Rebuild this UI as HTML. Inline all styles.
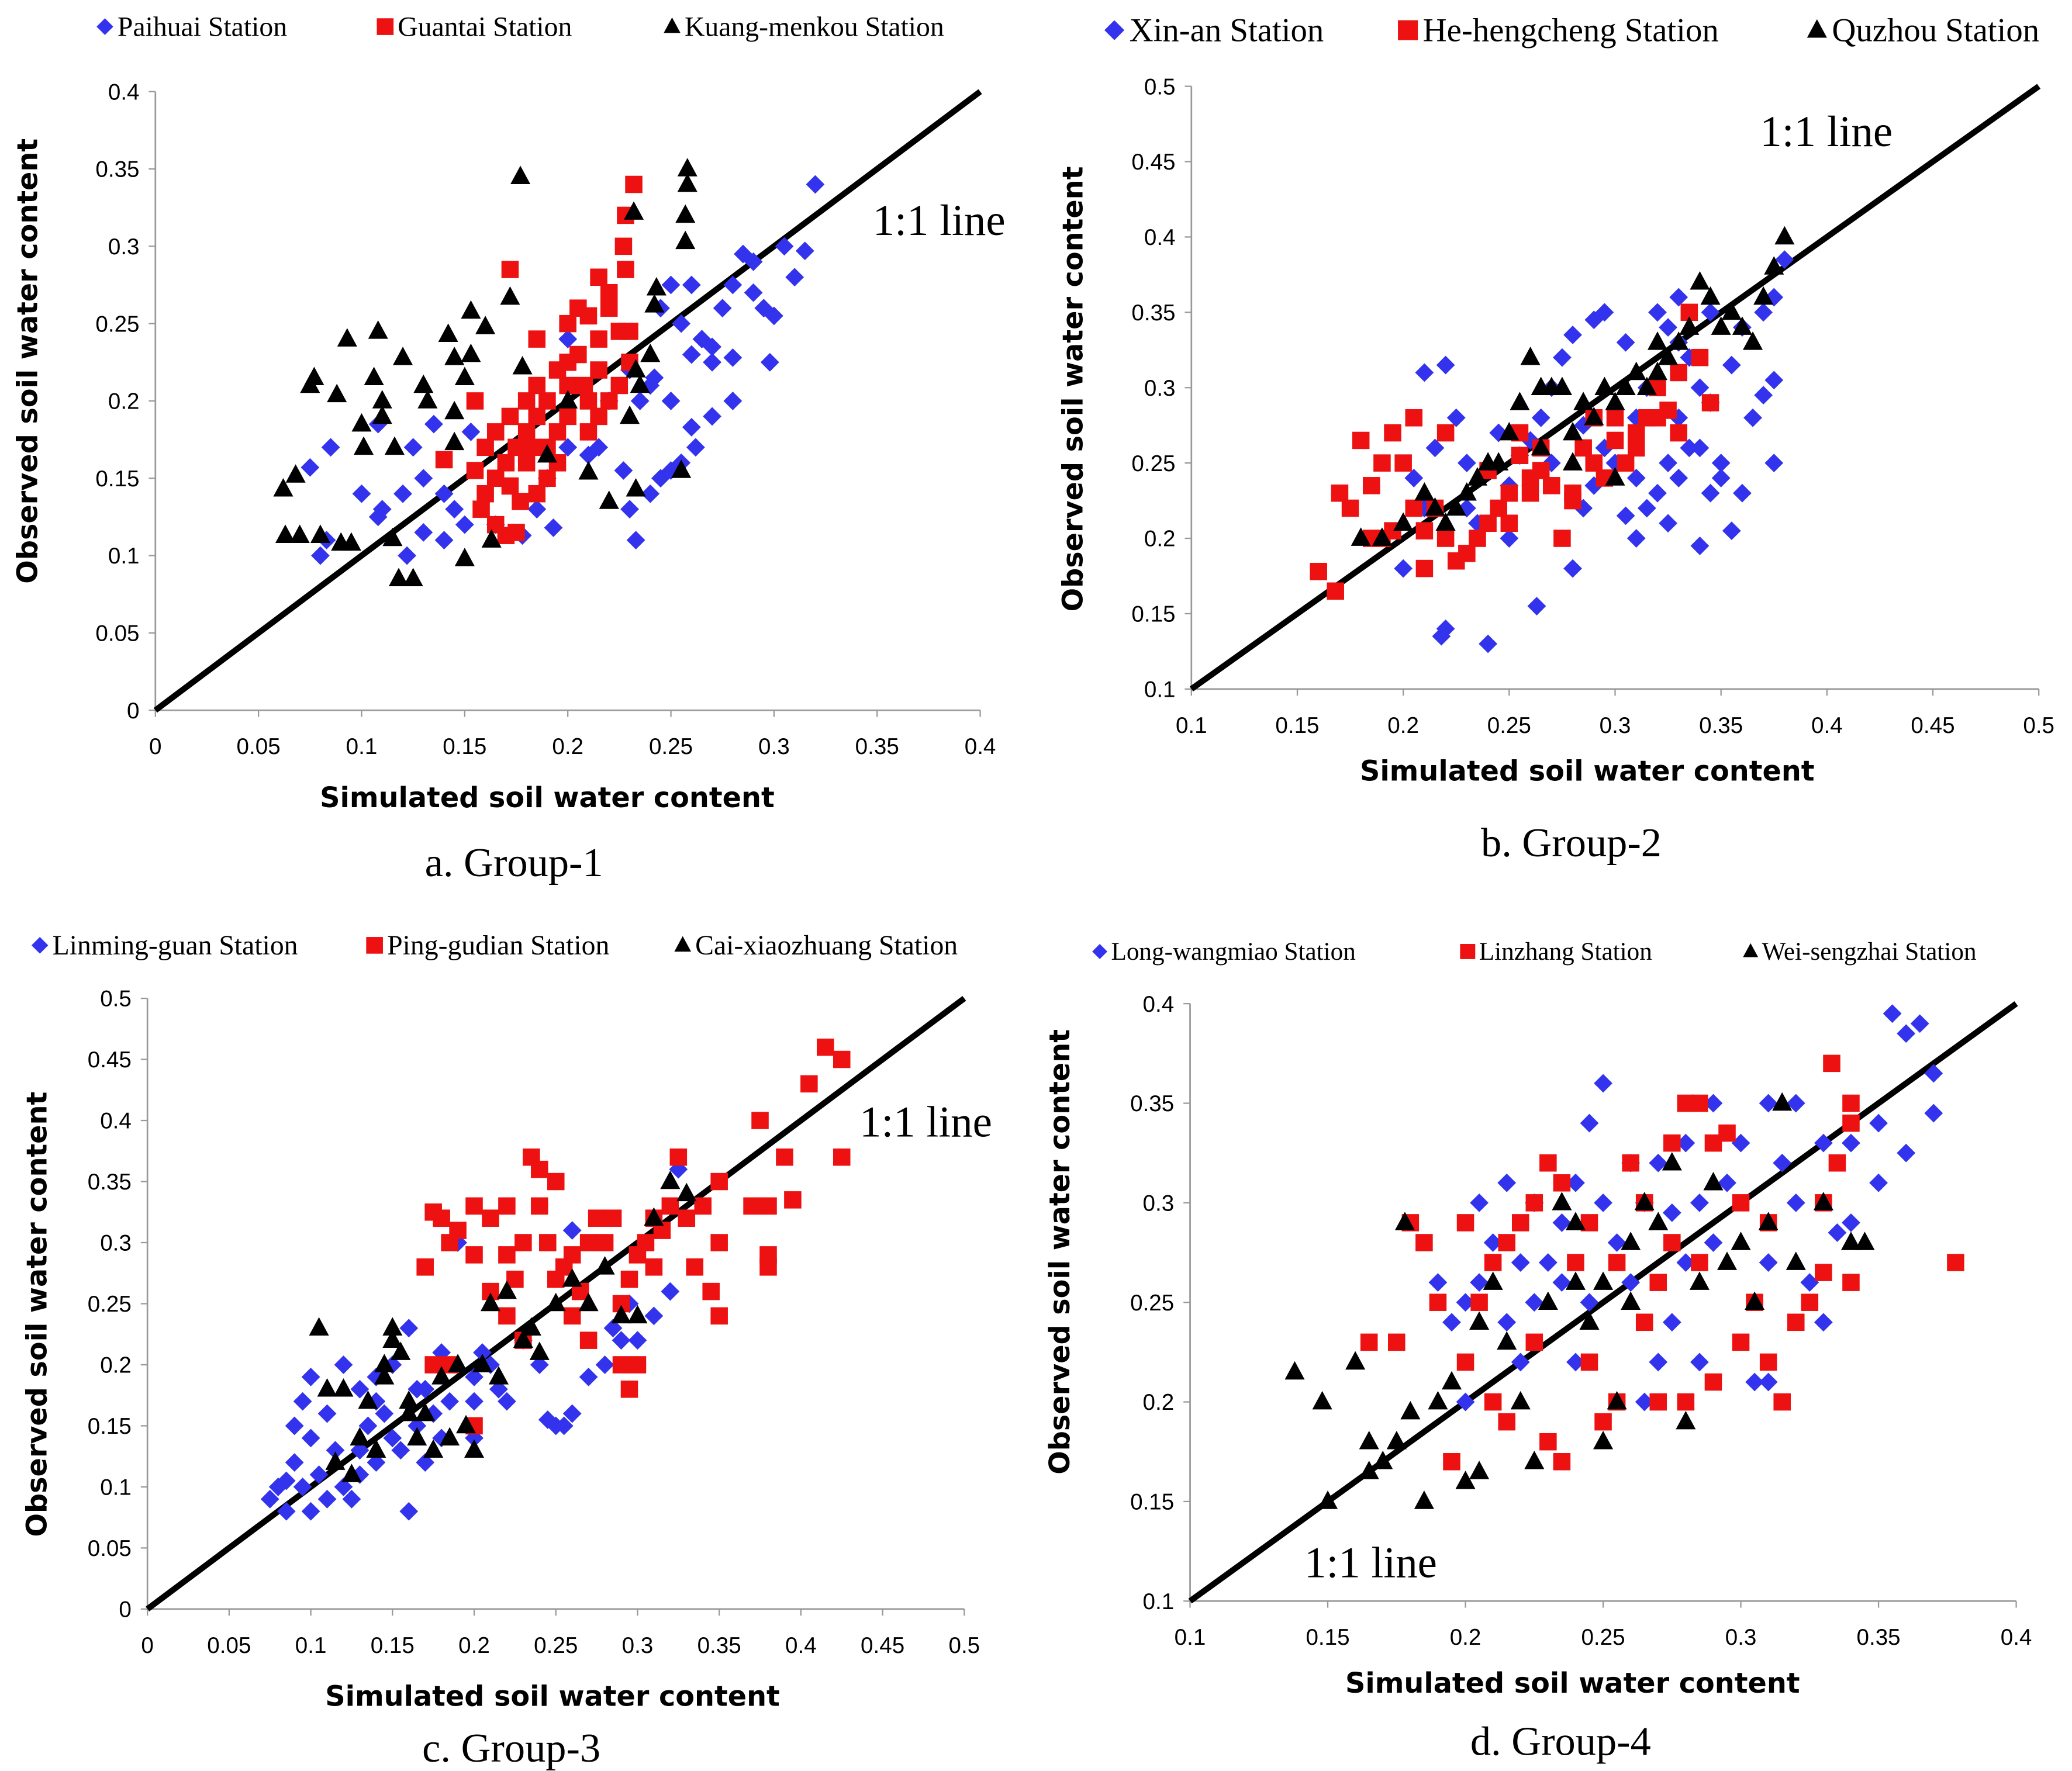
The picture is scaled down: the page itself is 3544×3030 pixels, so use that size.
<!DOCTYPE html>
<html><head><meta charset="utf-8"><style>
html,body{margin:0;padding:0;background:#fff;width:3544px;height:3030px;overflow:hidden}
svg{display:block}
.tick{font-family:"Liberation Sans",sans-serif;font-size:17px;fill:#000}
.atitle{font-family:"DejaVu Sans","Liberation Sans",sans-serif;font-weight:bold;font-size:21px;fill:#000}
.leg{font-family:"Liberation Serif",serif;fill:#000}
.cap{font-family:"Liberation Serif",serif;font-size:31px;fill:#000}
.one{font-family:"Liberation Serif",serif;font-size:33px;fill:#000}
</style></head><body>
<svg id="chart" width="3544" height="3030" viewBox="0 0 1560 1334" preserveAspectRatio="none" xmlns="http://www.w3.org/2000/svg"></svg>
<script>
// Panel a data
const aBlue=[[0.32,0.34],[0.315,0.297],[0.31,0.28],[0.305,0.3],[0.29,0.29],[0.285,0.295],[0.28,0.275],[0.3,0.255],[0.295,0.26],[0.298,0.225],[0.28,0.2],[0.27,0.19],[0.262,0.17],[0.255,0.16],[0.25,0.155],[0.245,0.15],[0.24,0.14],[0.233,0.11],[0.23,0.13],[0.227,0.155],[0.26,0.23],[0.265,0.24],[0.27,0.225],[0.255,0.25],[0.25,0.275],[0.26,0.275],[0.24,0.21],[0.235,0.2],[0.22,0.2],[0.215,0.17],[0.2,0.17],[0.19,0.15],[0.185,0.13],[0.178,0.113],[0.193,0.118],[0.165,0.12],[0.15,0.12],[0.14,0.11],[0.13,0.115],[0.122,0.1],[0.11,0.13],[0.1,0.14],[0.108,0.125],[0.085,0.17],[0.08,0.1],[0.075,0.157],[0.083,0.11],[0.13,0.15],[0.14,0.14],[0.12,0.14],[0.108,0.185],[0.153,0.18],[0.125,0.17],[0.21,0.165],[0.275,0.26],[0.25,0.2],[0.23,0.22],[0.26,0.183],[0.245,0.26],[0.27,0.235],[0.28,0.228],[0.29,0.27],[0.242,0.215],[0.2,0.24],[0.135,0.185],[0.145,0.13]];
const aRed=[[0.232,0.34],[0.228,0.32],[0.227,0.3],[0.228,0.285],[0.215,0.28],[0.22,0.27],[0.205,0.26],[0.2,0.25],[0.21,0.255],[0.225,0.245],[0.215,0.22],[0.2,0.21],[0.19,0.2],[0.185,0.19],[0.18,0.18],[0.175,0.17],[0.17,0.16],[0.165,0.15],[0.16,0.14],[0.155,0.2],[0.14,0.162],[0.172,0.285],[0.175,0.115],[0.17,0.113],[0.165,0.12],[0.185,0.14],[0.19,0.15],[0.195,0.16],[0.21,0.18],[0.22,0.2],[0.225,0.21],[0.23,0.225],[0.195,0.22],[0.185,0.21],[0.18,0.2],[0.172,0.19],[0.165,0.18],[0.16,0.17],[0.2,0.19],[0.21,0.2],[0.23,0.245],[0.22,0.26],[0.19,0.17],[0.18,0.16],[0.172,0.145],[0.158,0.13],[0.215,0.24],[0.205,0.23],[0.2,0.225],[0.195,0.18],[0.177,0.135],[0.183,0.17],[0.208,0.21],[0.215,0.19],[0.155,0.155],[0.185,0.24]];
const aBlack=[[0.062,0.143],[0.068,0.152],[0.063,0.113],[0.07,0.113],[0.075,0.21],[0.077,0.215],[0.08,0.113],[0.09,0.108],[0.093,0.24],[0.1,0.185],[0.106,0.215],[0.108,0.245],[0.11,0.2],[0.12,0.228],[0.116,0.17],[0.118,0.085],[0.125,0.085],[0.13,0.21],[0.132,0.2],[0.145,0.173],[0.142,0.243],[0.153,0.23],[0.153,0.258],[0.16,0.248],[0.15,0.098],[0.172,0.267],[0.177,0.345],[0.178,0.222],[0.163,0.11],[0.19,0.165],[0.2,0.2],[0.22,0.135],[0.232,0.322],[0.235,0.21],[0.24,0.23],[0.243,0.273],[0.242,0.262],[0.258,0.35],[0.258,0.34],[0.257,0.32],[0.257,0.303],[0.23,0.19],[0.233,0.22],[0.255,0.155],[0.233,0.143],[0.11,0.19],[0.101,0.17],[0.145,0.228],[0.15,0.215],[0.145,0.193],[0.095,0.108],[0.115,0.111],[0.21,0.154],[0.088,0.204]];
// Panel b data
const bBlue=[[0.38,0.385],[0.375,0.36],[0.37,0.35],[0.375,0.305],[0.37,0.295],[0.365,0.28],[0.375,0.25],[0.36,0.23],[0.355,0.205],[0.35,0.24],[0.345,0.23],[0.34,0.26],[0.345,0.29],[0.34,0.3],[0.335,0.32],[0.33,0.33],[0.325,0.34],[0.32,0.35],[0.33,0.36],[0.345,0.35],[0.335,0.26],[0.33,0.24],[0.325,0.25],[0.32,0.23],[0.315,0.22],[0.31,0.2],[0.305,0.215],[0.3,0.25],[0.295,0.26],[0.29,0.235],[0.285,0.275],[0.28,0.18],[0.29,0.345],[0.295,0.35],[0.28,0.335],[0.305,0.33],[0.27,0.3],[0.265,0.28],[0.26,0.265],[0.255,0.255],[0.25,0.235],[0.245,0.27],[0.24,0.13],[0.22,0.14],[0.218,0.135],[0.263,0.155],[0.235,0.21],[0.23,0.22],[0.225,0.28],[0.22,0.315],[0.21,0.31],[0.215,0.26],[0.205,0.24],[0.2,0.18],[0.21,0.22],[0.23,0.25],[0.27,0.25],[0.31,0.28],[0.315,0.3],[0.35,0.25],[0.325,0.21],[0.34,0.195],[0.355,0.315],[0.36,0.34],[0.275,0.32],[0.31,0.24],[0.285,0.22],[0.25,0.2],[0.33,0.28]];
const bRed=[[0.335,0.35],[0.34,0.32],[0.33,0.31],[0.32,0.3],[0.325,0.285],[0.315,0.28],[0.31,0.27],[0.3,0.265],[0.305,0.25],[0.295,0.24],[0.29,0.25],[0.285,0.26],[0.28,0.23],[0.27,0.235],[0.265,0.245],[0.26,0.24],[0.255,0.255],[0.25,0.23],[0.245,0.22],[0.24,0.21],[0.235,0.2],[0.23,0.19],[0.225,0.185],[0.22,0.2],[0.215,0.22],[0.21,0.18],[0.205,0.22],[0.2,0.25],[0.195,0.27],[0.19,0.25],[0.185,0.235],[0.18,0.265],[0.175,0.22],[0.17,0.23],[0.16,0.178],[0.168,0.165],[0.19,0.2],[0.195,0.205],[0.205,0.28],[0.22,0.27],[0.24,0.245],[0.25,0.21],[0.26,0.23],[0.275,0.2],[0.28,0.225],[0.29,0.28],[0.3,0.28],[0.31,0.26],[0.32,0.28],[0.33,0.27],[0.345,0.29],[0.265,0.26],[0.255,0.27],[0.21,0.205],[0.185,0.2]];
const bBlack=[[0.38,0.4],[0.375,0.38],[0.37,0.36],[0.36,0.34],[0.355,0.35],[0.345,0.36],[0.34,0.37],[0.335,0.34],[0.33,0.33],[0.325,0.32],[0.32,0.31],[0.315,0.3],[0.31,0.31],[0.305,0.3],[0.3,0.29],[0.295,0.3],[0.29,0.28],[0.285,0.29],[0.28,0.27],[0.275,0.3],[0.27,0.3],[0.265,0.3],[0.26,0.32],[0.255,0.29],[0.25,0.27],[0.245,0.25],[0.24,0.25],[0.235,0.24],[0.23,0.23],[0.225,0.22],[0.22,0.21],[0.215,0.22],[0.21,0.23],[0.2,0.21],[0.19,0.2],[0.18,0.2],[0.265,0.26],[0.28,0.25],[0.3,0.24],[0.32,0.33],[0.35,0.34],[0.365,0.33]];
// Panel c data
const cBlue=[[0.075,0.09],[0.08,0.1],[0.085,0.08],[0.09,0.12],[0.095,0.1],[0.1,0.08],[0.105,0.11],[0.11,0.09],[0.12,0.1],[0.125,0.09],[0.13,0.13],[0.135,0.15],[0.14,0.12],[0.145,0.16],[0.15,0.14],[0.155,0.13],[0.16,0.08],[0.165,0.15],[0.17,0.18],[0.175,0.16],[0.18,0.14],[0.185,0.17],[0.19,0.3],[0.2,0.19],[0.205,0.21],[0.21,0.2],[0.215,0.18],[0.22,0.17],[0.23,0.22],[0.24,0.2],[0.245,0.155],[0.25,0.15],[0.255,0.15],[0.26,0.16],[0.27,0.19],[0.28,0.2],[0.285,0.23],[0.29,0.22],[0.295,0.25],[0.3,0.22],[0.31,0.24],[0.32,0.26],[0.325,0.36],[0.26,0.31],[0.09,0.15],[0.1,0.14],[0.11,0.16],[0.115,0.13],[0.12,0.2],[0.13,0.18],[0.14,0.17],[0.16,0.23],[0.17,0.12],[0.18,0.21],[0.1,0.19],[0.095,0.17],[0.15,0.2],[0.2,0.14],[0.13,0.11],[0.085,0.105],[0.14,0.19],[0.165,0.18],[0.2,0.17]];
const cRed=[[0.415,0.46],[0.425,0.45],[0.405,0.43],[0.425,0.37],[0.375,0.4],[0.39,0.37],[0.395,0.335],[0.38,0.33],[0.37,0.33],[0.38,0.29],[0.38,0.28],[0.35,0.35],[0.35,0.3],[0.345,0.26],[0.35,0.24],[0.34,0.33],[0.335,0.28],[0.325,0.37],[0.32,0.33],[0.315,0.31],[0.31,0.32],[0.305,0.3],[0.3,0.29],[0.295,0.27],[0.29,0.25],[0.3,0.2],[0.295,0.18],[0.29,0.2],[0.28,0.3],[0.275,0.32],[0.27,0.3],[0.265,0.26],[0.26,0.29],[0.255,0.28],[0.25,0.27],[0.245,0.3],[0.24,0.36],[0.235,0.37],[0.23,0.3],[0.225,0.27],[0.22,0.33],[0.21,0.32],[0.2,0.33],[0.2,0.29],[0.19,0.31],[0.185,0.3],[0.18,0.32],[0.175,0.325],[0.17,0.28],[0.175,0.2],[0.185,0.2],[0.2,0.15],[0.21,0.26],[0.22,0.24],[0.23,0.22],[0.27,0.22],[0.26,0.24],[0.33,0.32],[0.31,0.28],[0.285,0.32],[0.25,0.35],[0.24,0.33],[0.22,0.29]];
const cBlack=[[0.105,0.23],[0.11,0.18],[0.115,0.12],[0.12,0.18],[0.125,0.11],[0.13,0.14],[0.135,0.17],[0.14,0.13],[0.145,0.19],[0.15,0.23],[0.155,0.21],[0.16,0.17],[0.165,0.14],[0.17,0.16],[0.175,0.13],[0.18,0.19],[0.185,0.14],[0.19,0.2],[0.195,0.15],[0.2,0.13],[0.205,0.2],[0.21,0.25],[0.215,0.19],[0.22,0.26],[0.23,0.22],[0.235,0.23],[0.24,0.21],[0.25,0.25],[0.26,0.27],[0.27,0.25],[0.28,0.28],[0.29,0.24],[0.3,0.24],[0.31,0.32],[0.32,0.35],[0.33,0.34],[0.15,0.22],[0.16,0.16],[0.145,0.2]];
// Panel d data
const dBlue=[[0.355,0.395],[0.365,0.39],[0.36,0.385],[0.37,0.365],[0.36,0.325],[0.37,0.345],[0.35,0.34],[0.35,0.31],[0.34,0.29],[0.335,0.285],[0.33,0.24],[0.325,0.26],[0.32,0.3],[0.315,0.32],[0.31,0.35],[0.3,0.33],[0.295,0.31],[0.29,0.28],[0.285,0.3],[0.28,0.27],[0.275,0.24],[0.27,0.22],[0.265,0.2],[0.26,0.26],[0.255,0.28],[0.25,0.36],[0.245,0.34],[0.24,0.31],[0.235,0.29],[0.23,0.27],[0.225,0.25],[0.22,0.22],[0.215,0.24],[0.21,0.28],[0.205,0.3],[0.2,0.25],[0.195,0.24],[0.19,0.26],[0.2,0.2],[0.215,0.31],[0.225,0.3],[0.235,0.26],[0.25,0.3],[0.26,0.32],[0.27,0.32],[0.28,0.33],[0.29,0.35],[0.305,0.21],[0.31,0.21],[0.31,0.27],[0.32,0.35],[0.33,0.33],[0.34,0.33],[0.245,0.25],[0.265,0.3],[0.275,0.295],[0.285,0.22],[0.24,0.22],[0.22,0.27],[0.205,0.26]];
const dRed=[[0.378,0.27],[0.333,0.37],[0.34,0.35],[0.34,0.34],[0.335,0.32],[0.33,0.3],[0.33,0.265],[0.34,0.26],[0.325,0.25],[0.32,0.24],[0.315,0.2],[0.31,0.29],[0.305,0.25],[0.3,0.3],[0.295,0.335],[0.29,0.33],[0.285,0.35],[0.28,0.35],[0.275,0.33],[0.27,0.26],[0.265,0.3],[0.26,0.32],[0.255,0.2],[0.25,0.19],[0.245,0.22],[0.24,0.27],[0.235,0.31],[0.23,0.32],[0.225,0.3],[0.22,0.29],[0.215,0.28],[0.21,0.27],[0.205,0.25],[0.2,0.22],[0.195,0.17],[0.19,0.25],[0.185,0.28],[0.18,0.29],[0.175,0.23],[0.165,0.23],[0.23,0.18],[0.235,0.17],[0.225,0.23],[0.21,0.2],[0.215,0.19],[0.27,0.2],[0.28,0.2],[0.29,0.21],[0.3,0.23],[0.31,0.22],[0.265,0.24],[0.255,0.27],[0.245,0.29],[0.275,0.28],[0.285,0.27],[0.2,0.29]];
const dBlack=[[0.138,0.215],[0.148,0.2],[0.15,0.15],[0.16,0.22],[0.165,0.18],[0.165,0.165],[0.17,0.17],[0.175,0.18],[0.178,0.29],[0.18,0.195],[0.185,0.15],[0.19,0.2],[0.195,0.21],[0.2,0.16],[0.205,0.24],[0.21,0.26],[0.215,0.23],[0.22,0.2],[0.225,0.17],[0.23,0.25],[0.235,0.3],[0.24,0.29],[0.245,0.24],[0.25,0.26],[0.255,0.2],[0.26,0.28],[0.265,0.3],[0.27,0.29],[0.275,0.32],[0.28,0.19],[0.285,0.26],[0.29,0.31],[0.295,0.27],[0.3,0.28],[0.305,0.25],[0.31,0.29],[0.315,0.35],[0.32,0.27],[0.33,0.3],[0.34,0.28],[0.345,0.28],[0.205,0.165],[0.25,0.18],[0.26,0.25],[0.24,0.26]];
// Tick labels
const ticksA=["0","0.05","0.1","0.15","0.2","0.25","0.3","0.35","0.4"];
const ticksB=["0.1","0.15","0.2","0.25","0.3","0.35","0.4","0.45","0.5"];
const ticksC=["0","0.05","0.1","0.15","0.2","0.25","0.3","0.35","0.4","0.45","0.5"];
const ticksDx=["0.1","0.15","0.2","0.25","0.3","0.35","0.4"];
const ticksDy=["0.1","0.15","0.2","0.25","0.3","0.35","0.4"];

const NS="http://www.w3.org/2000/svg";
const svg=document.getElementById('chart');
function mk(tag,attrs,parent){const e=document.createElementNS(NS,tag);for(const k in attrs)e.setAttribute(k,attrs[k]);(parent||svg).appendChild(e);return e;}
function txt(s,x,y,cls,parent,anchor,extra){const t=mk('text',Object.assign({x:x,y:y,class:cls,'text-anchor':anchor||'start'},extra||{}),parent);t.textContent=s;return t;}
function marker(kind,cx,cy,s,parent){
  if(kind==='d'){return mk('polygon',{points:`${cx},${cy-s} ${cx+s},${cy} ${cx},${cy+s} ${cx-s},${cy}`,fill:'#3333ee'},parent);}
  if(kind==='s'){return mk('rect',{x:cx-s,y:cy-s,width:2*s,height:2*s,fill:'#ee1111'},parent);}
  return mk('polygon',{points:`${cx},${cy-s*1.1} ${cx+s},${cy+s*0.75} ${cx-s},${cy+s*0.75}`,fill:'#000'},parent);
}
function panel(cfg){
  const g=mk('g',{});
  
  
  const sx=v=>cfg.x0+(v-cfg.xmin)/(cfg.xmax-cfg.xmin)*(cfg.x1-cfg.x0);
  const sy=v=>cfg.y0-(v-cfg.ymin)/(cfg.ymax-cfg.ymin)*(cfg.y0-cfg.y1);
  const ax=mk('path',{d:`M${cfg.x0},${cfg.y1} V${cfg.y0} H${cfg.x1}`,stroke:'#999',fill:'none','stroke-width':1.2},g);
  
  
  cfg.xt.forEach(l=>{const v=parseFloat(l);const x=sx(v);
    mk('line',{x1:x,x2:x,y1:cfg.y0,y2:cfg.y0+5,stroke:'#999'},g);
    const t=txt(l,x,cfg.y0+33,'tick',g,'middle');
    
    });
  cfg.yt.forEach(l=>{const v=parseFloat(l);const y=sy(v);
    mk('line',{x1:cfg.x0-5,x2:cfg.x0,y1:y,y2:y,stroke:'#999'},g);
    const t=txt(l,cfg.x0-12,y+6,'tick',g,'end');
    
    });
  const ln=mk('line',{x1:sx(cfg.lmin),y1:sy(cfg.lmin),x2:sx(cfg.lmax),y2:sy(cfg.lmax),stroke:'#000','stroke-width':4.5},g);
  
  
  const ser=[[cfg.blue,'d',7],[cfg.red,'s',6.5],[cfg.black,'t',7.5]];
  ser.forEach(([data,k,s])=>{data.forEach(p=>{const m=marker(k,sx(p[0]),sy(p[1]),s,g);
    
    });});
  const xt=txt('Simulated soil water content',cfg.xtx,cfg.xty,'atitle',g,'middle',{'font-size':cfg.tfs});
  
  
  const yt=txt('Observed soil water content',0,0,'atitle',g,'middle',{transform:`translate(${cfg.ytx},${cfg.yty}) rotate(-90)`,'font-size':cfg.tfs});
  
  
  const ol=txt('1:1 line',cfg.olx,cfg.oly,'one',g,'middle');
  
  
  const cp=txt(cfg.cap,cfg.capx,cfg.capy,'cap',g,'middle');
  
  
  cfg.leg.forEach(([k,label,x])=>{const lg=mk('g',{},g);
    
    
    marker(k,x,cfg.legy-cfg.lfs*0.33,cfg.lfs*0.3,lg);
    txt(label,x+cfg.lfs*0.45,cfg.legy,'leg',lg,'start',{'font-size':cfg.lfs});});
}
panel({name:'panel-a-group-1',x0:117,x1:738,y0:535,y1:69,xmin:0,xmax:0.4,ymin:0,ymax:0.4,lmin:0,lmax:0.4,xt:ticksA,yt:ticksA,
 blue:aBlue,red:aRed,black:aBlack,xtx:412,xty:608,ytx:28,yty:272,tfs:21,olx:707,oly:177,cap:'a. Group-1',capx:387,capy:660,
 legy:27,lfs:21,leg:[['d','Paihuai Station',79],['s','Guantai Station',290],['t','Kuang-menkou Station',506]]});
panel({name:'panel-b-group-2',x0:897,x1:1535,y0:519,y1:65,xmin:0.1,xmax:0.5,ymin:0.1,ymax:0.5,lmin:0.1,lmax:0.5,xt:ticksB,yt:ticksB,
 blue:bBlue,red:bRed,black:bBlack,xtx:1195,xty:588,ytx:815,yty:293,tfs:23,olx:1375,oly:110,cap:'b. Group-2',capx:1183,capy:645,
 legy:31,lfs:25,leg:[['d','Xin-an Station',839],['s','He-hengcheng Station',1060],['t','Quzhou Station',1368]]});
panel({name:'panel-c-group-3',x0:111,x1:726,y0:1212,y1:752,xmin:0,xmax:0.5,ymin:0,ymax:0.5,lmin:0,lmax:0.5,xt:ticksC,yt:ticksC,
 blue:cBlue,red:cRed,black:cBlack,xtx:416,xty:1285,ytx:35,yty:990,tfs:22,olx:697,oly:856,cap:'c. Group-3',capx:385,capy:1327,
 legy:719,lfs:21,leg:[['d','Linming-guan Station',30],['s','Ping-gudian Station',282],['t','Cai-xiaozhuang Station',514]]});
panel({name:'panel-d-group-4',x0:896,x1:1518,y0:1206,y1:756,xmin:0.1,xmax:0.4,ymin:0.1,ymax:0.4,lmin:0.1,lmax:0.4,xt:ticksDx,yt:ticksDy,
 blue:dBlue,red:dRed,black:dBlack,xtx:1184,xty:1275,ytx:805,yty:943,tfs:19,olx:1032,oly:1188,cap:'d. Group-4',capx:1175,capy:1322,
 legy:723,lfs:19,leg:[['d','Long-wangmiao Station',828],['s','Linzhang Station',1105],['t','Wei-sengzhai Station',1318]]});
</script>
</body></html>
